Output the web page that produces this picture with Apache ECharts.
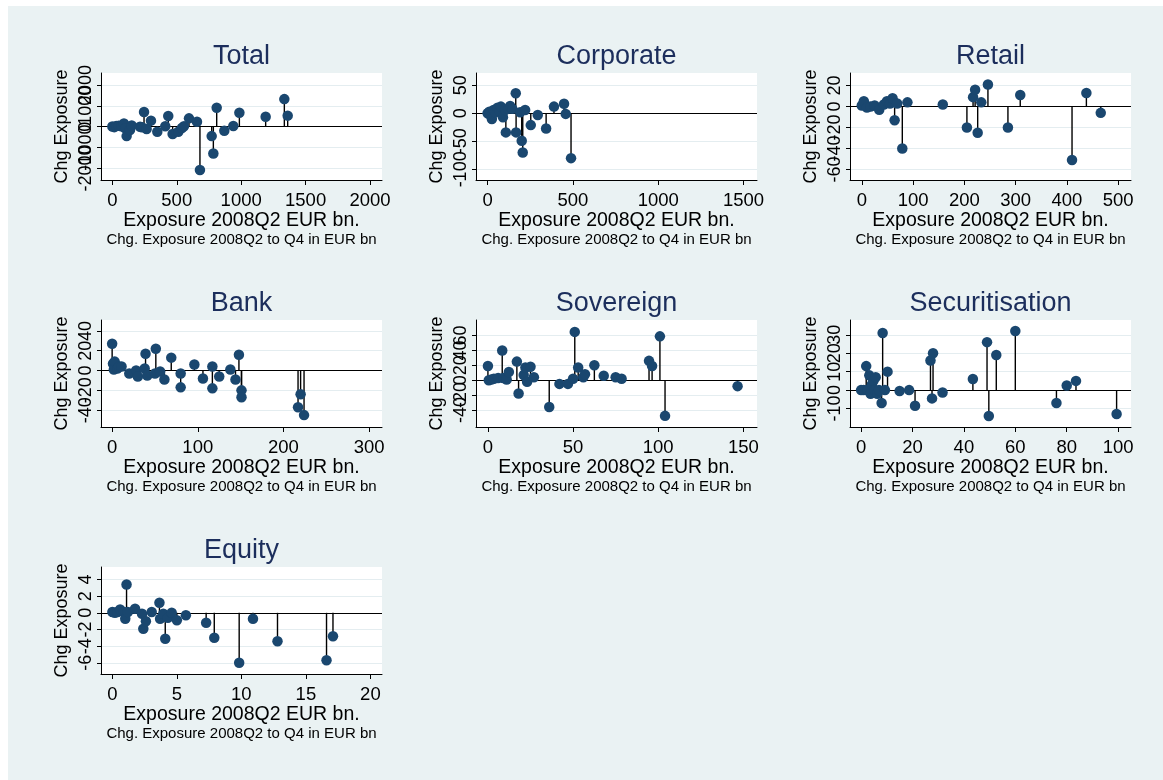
<!DOCTYPE html>
<html>
<head>
<meta charset="utf-8">
<script src="https://cdn.jsdelivr.net/npm/echarts@6/dist/echarts.min.js"></script>
<style>
html, body { margin: 0; padding: 0; background: #fff; }
#wrap { position: relative; width: 1163px; height: 780px; background: #fff; overflow: hidden; }
#bg { position: absolute; left: 8px; top: 6px; width: 1155px; height: 774px; background: #eaf2f3; }
#chart { position: absolute; left: 0; top: 0; width: 1163px; height: 780px; }
</style>
</head>
<body>
<div id="wrap"><div id="bg"></div><div id="chart"></div></div>
<script>
// Exposure in 2008Q2 (EUR bn) and change in exposure 2008Q2 -> Q4 (EUR bn), per portfolio
const totalExposure = [0, 15, 30, 50, 70, 90, 100, 111, 137, 150, 215, 230, 246, 266, 300, 349, 411, 434, 468, 512, 540, 556, 595, 657, 680, 771, 784, 810, 869, 939, 986, 1190, 1335, 1361];
const totalChange   = [10, -20, 30, 50, 20, 150, -80, -450, -160, 60, 0, -30, 700, -110, 290, -240, 20, 510, -350, -240, -60, 20, 400, 240, -2070, -450, -1280, 910, -190, 30, 670, 480, 1320, 530];

const corporateExposure = [0, 10, 20, 25, 35, 45, 58, 70, 78, 90, 103, 107, 120, 132, 145, 165, 167, 191, 200, 206, 220, 253, 294, 343, 389, 448, 458, 489];
const corporateChange   = [0, 3, -5, -10, 6, 2, 10, 4, 12, -7, 6, -34, 8, 13, 8, 36, -34, 2, -49, -70, 6, -21, -3, -27, 12, 17, -1, -80];

const retailExposure = [0, 4, 10, 17, 25, 34, 43, 49, 55, 60, 64, 69, 79, 89, 158, 205, 217, 221, 226, 233, 246, 285, 309, 410, 438, 466];
const retailChange   = [1, 5, -1, 0, 1, -3, 2, 5, 3, 8, -13, 3, -40, 4, 2, -20, 9, 16, -25, 4, 21, -20, 11, -51, 13, -6];

const bankExposure = [0, 1, 2, 3, 6, 8, 11, 20, 28, 30, 38, 39, 41, 50, 51, 56, 61, 69, 80, 80, 96, 106, 117, 117, 125, 138, 144, 148, 151, 151, 217, 220, 224];
const bankChange   = [27, 7, 1, 9, 2, 4, 4, -3, 0, -6, 2, 17, -5, -3, 22, -1, -9, 13, -3, -17, 6, -8, 4, -18, -6, 1, -9, 16, -20, -27, -37, -24, -45];

const sovereignExposure = [0, 0.5, 2, 3.5, 6, 8.4, 9, 11, 12.3, 17, 18, 21, 22, 23, 25, 27, 36, 42, 47, 50, 51, 53, 56, 57, 62.5, 68, 75, 78.5, 94.6, 96.4, 101, 104, 146.6];
const sovereignChange   = [19, 0, 1, 2, 3, 40, 3, 1, 11, 25, -18, 7, 17, -2, 18, 4, -36, -5, -5, 2, 65, 17, 4, 8, 20, 6, 4, 2, 26, 19, 59, -48, -8];

const securitisationExposure = [0, 1, 2, 2.5, 3.2, 3.7, 4.2, 4.8, 5.2, 5.7, 6.3, 7, 8, 8.4, 9.3, 10.3, 15, 18.7, 21, 27, 27.6, 28, 31.7, 43.5, 49, 49.7, 52.6, 60, 76, 80, 83.6, 99.4];
const securitisationChange   = [0, 0, 13, 0, 8, -2, 3, 5, 0, 7, -2, 0, -7, 31, 0, 10, -0.5, 0, -8.5, 16, -4.5, 20, -1.3, 6, 26, -14, 19, 32, -7, 2.5, 5, -13];

const equityExposure = [0, 0.2, 0.4, 0.6, 0.9, 1.0, 1.1, 1.2, 1.76, 2.3, 2.4, 2.6, 3.05, 3.65, 3.7, 3.95, 4.1, 4.3, 4.6, 5.0, 5.7, 7.27, 7.9, 9.83, 10.9, 12.8, 16.6, 17.1];
const equityChange   = [0.1, 0, 0.1, 0.4, 0.1, -0.7, 3.4, 0.1, 0.5, -0.1, -1.9, -1.0, 0.1, 1.2, -0.7, -0.1, -3.1, -0.6, 0, -0.9, -0.3, -1.2, -3.0, -6.0, -0.7, -3.4, -5.7, -2.8];

// Tick labels for each panel
const totalXTicks = [0, 500, 1000, 1500, 2000];
const totalYTicks = [-2000, -1000, 0, 1000, 2000];
const corporateXTicks = [0, 500, 1000, 1500];
const corporateYTicks = [-100, -50, 0, 50];
const retailXTicks = [0, 100, 200, 300, 400, 500];
const retailYTicks = [-60, -40, -20, 0, 20];
const bankXTicks = [0, 100, 200, 300];
const bankYTicks = [-40, -20, 0, 20, 40];
const sovereignXTicks = [0, 50, 100, 150];
const sovereignYTicks = [-40, -20, 0, 20, 40, 60];
const securitisationXTicks = [0, 20, 40, 60, 80, 100];
const securitisationYTicks = [-10, 0, 10, 20, 30];
const equityXTicks = [0, 5, 10, 15, 20];
const equityYTicks = [-6, -4, -2, 0, 2, 4];

const X_TITLE = 'Exposure 2008Q2 EUR bn.';
const Y_TITLE = 'Chg Exposure';
const NOTE = 'Chg. Exposure 2008Q2 to Q4 in EUR bn';

const panels = [
  { title: 'Total', x: totalExposure, y: totalChange, xTicks: totalXTicks, yTicks: totalYTicks, xRange: [-88, 2093], yRange: [-2550, 2570], col: 0, row: 0 },
  { title: 'Corporate', x: corporateExposure, y: corporateChange, xTicks: corporateXTicks, yTicks: corporateYTicks, xRange: [-68, 1579], yRange: [-119, 72], col: 1, row: 0 },
  { title: 'Retail', x: retailExposure, y: retailChange, xTicks: retailXTicks, yTicks: retailYTicks, xRange: [-23, 525], yRange: [-70, 32], col: 2, row: 0 },
  { title: 'Bank', x: bankExposure, y: bankChange, xTicks: bankXTicks, yTicks: bankYTicks, xRange: [-13, 315], yRange: [-57, 51], col: 0, row: 1 },
  { title: 'Sovereign', x: sovereignExposure, y: sovereignChange, xTicks: sovereignXTicks, yTicks: sovereignYTicks, xRange: [-7, 158], yRange: [-63, 81], col: 1, row: 1 },
  { title: 'Securitisation', x: securitisationExposure, y: securitisationChange, xTicks: securitisationXTicks, yTicks: securitisationYTicks, xRange: [-4.3, 105], yRange: [-20, 38], col: 2, row: 1 },
  { title: 'Equity', x: equityExposure, y: equityChange, xTicks: equityXTicks, yTicks: equityYTicks, xRange: [-0.88, 20.9], yRange: [-7.34, 5.5], col: 0, row: 2 }
];

const FONT = '"Liberation Sans", Arial, Helvetica, sans-serif';
const COLS = [101, 476, 850];
const ROWS = [73, 320, 567];
const PW = 281, PH = 107;
const MARKER = '#1a476f';
const TITLE_COLOR = '#1c2e5c';
const GRID_LINE = '#e4edf0';
const Y_LABEL_SIZE = 18;

// Plain numbers, no thousands separator
const plain = v => String(v);

function text(x, y, str, size, color, rotation) {
  return {
    type: 'text', x: x, y: y, rotation: rotation || 0, silent: true,
    style: {
      text: str, font: size + 'px ' + FONT, fill: color,
      align: 'center', verticalAlign: 'middle',
      textAlign: 'center', textVerticalAlign: 'middle'
    }
  };
}

const grids = [], xAxes = [], yAxes = [], series = [], graphics = [];

panels.forEach((p, i) => {
  const left = COLS[p.col], top = ROWS[p.row];
  const points = p.x.map((v, k) => [v, p.y[k]]);

  grids.push({
    left: left, top: top, width: PW, height: PH,
    show: true, backgroundColor: '#ffffff', borderWidth: 0,
    containLabel: false, outerBoundsMode: 'none'
  });

  xAxes.push({
    gridIndex: i, type: 'value', min: p.xRange[0], max: p.xRange[1],
    axisLine: { show: true, onZero: false, lineStyle: { color: '#000', width: 1 } },
    axisTick: { show: true, customValues: p.xTicks, length: 5, lineStyle: { color: '#000', width: 1 } },
    axisLabel: {
      show: true, customValues: p.xTicks, formatter: plain, fontSize: 18.5, fontFamily: FONT,
      color: '#000', margin: 11, hideOverlap: false, showMinLabel: true, showMaxLabel: true
    },
    splitLine: { show: false }
  });

  // Vertical tick labels are placed below as text so that overlapping ones all stay visible
  yAxes.push({
    gridIndex: i, type: 'value', min: p.yRange[0], max: p.yRange[1],
    axisLine: { show: true, onZero: false, lineStyle: { color: '#000', width: 1 } },
    axisTick: { show: true, customValues: p.yTicks, length: 4, lineStyle: { color: '#000', width: 1 } },
    axisLabel: { show: false, customValues: p.yTicks },
    splitLine: { show: true, lineStyle: { color: GRID_LINE, width: 1 } }
  });

  // Drop lines from zero to each observation, plus the zero reference line
  series.push({
    type: 'custom', xAxisIndex: i, yAxisIndex: i, data: points, silent: true, z: 2,
    renderItem: function (params, api) {
      const p0 = api.coord([api.value(0), 0]);
      const p1 = api.coord([api.value(0), api.value(1)]);
      return {
        type: 'line',
        shape: { x1: p0[0], y1: p0[1], x2: p1[0], y2: p1[1] },
        style: { stroke: '#000', lineWidth: 1.4 }
      };
    },
    markLine: {
      silent: true, symbol: 'none', animation: false,
      label: { show: false },
      lineStyle: { color: '#000', width: 1.2, type: 'solid' },
      data: [{ yAxis: 0 }]
    }
  });

  series.push({
    type: 'scatter', xAxisIndex: i, yAxisIndex: i, data: points, silent: true, z: 10,
    symbol: 'circle', symbolSize: 10.5,
    itemStyle: { color: MARKER, opacity: 1, borderWidth: 0 }
  });

  graphics.push(text(left + PW / 2, top - 16, p.title, 27, TITLE_COLOR));
  graphics.push(text(left + PW / 2, top + PH + 41, X_TITLE, 19.5, '#000'));
  graphics.push(text(left + PW / 2, top + PH + 60, NOTE, 15, '#000'));
  graphics.push(text(left - 39, top + PH / 2, Y_TITLE, 18, '#000', Math.PI / 2));
});

const chart = echarts.init(document.getElementById('chart'), null, { renderer: 'canvas' });
chart.setOption({
  animation: false,
  backgroundColor: 'transparent',
  textStyle: { fontFamily: FONT },
  grid: grids,
  xAxis: xAxes,
  yAxis: yAxes,
  series: series
});

// Y tick labels, positioned through each panel's own y scale
panels.forEach((p, i) => {
  const left = COLS[p.col];
  p.yTicks.forEach(v => {
    const pt = chart.convertToPixel({ gridIndex: i }, [p.xRange[0], v]);
    graphics.push(text(left - 6 - Y_LABEL_SIZE / 2, pt[1], plain(v), Y_LABEL_SIZE, '#000', Math.PI / 2));
  });
});

chart.setOption({ graphic: { elements: graphics } });
</script>
</body>
</html>
